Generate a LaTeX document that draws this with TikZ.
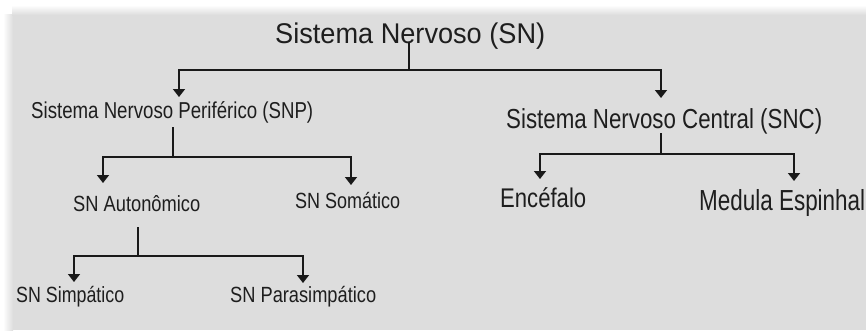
\documentclass[tikz,border=0pt]{standalone}
\usepackage{fontspec}
\usepackage{graphicx}
\setmainfont{Liberation Sans}
\usetikzlibrary{arrows.meta}

\definecolor{bggray}{RGB}{221,221,221}
\definecolor{txtgray}{RGB}{30,30,30}
\definecolor{lngray}{RGB}{25,25,25}

% text squeezed to the width seen in the picture
\newcommand{\lbl}[3]{\resizebox{#1pt}{\height}{\fontsize{#2}{#2}\selectfont #3}}

\tikzset{
  lbl/.style={inner sep=0pt, anchor=base west, text=txtgray},
  ln/.style={line width=1.6pt, draw=lngray},
  arr/.style={ln, -{Triangle[width=12pt,length=8pt]}}
}

\begin{document}
\begin{tikzpicture}[x=1pt,y=-1pt]
        \useasboundingbox (0,0) rectangle (866,333);

        % Background
        \fill[bggray] (12,14) rectangle (866,330);
        \shade[left color=white, right color=bggray] (3,14) rectangle (13,330);
        \shade[top color=white, bottom color=bggray] (12,5) rectangle (866,15);

        % Labels
        \node[lbl] (sn) at (275,43) {\lbl{270}{28.5}{Sistema Nervoso (SN)}};
        \node[lbl] (snp) at (31,118) {\lbl{282}{23}{Sistema Nervoso Periférico (SNP)}};
        \node[lbl] (snc) at (506,128) {\lbl{316}{27.5}{Sistema Nervoso Central (SNC)}};
        \node[lbl] (aut) at (73,211) {\lbl{127}{22}{SN Autonômico}};
        \node[lbl] (som) at (295,208) {\lbl{105}{22}{SN Somático}};
        \node[lbl] (enc) at (500,207) {\lbl{86}{27}{Encéfalo}};
        \node[lbl] (med) at (699,210) {\lbl{166}{29}{Medula Espinhal}};
        \node[lbl] (simp) at (16,302) {\lbl{108}{22}{SN Simpático}};
        \node[lbl] (paras) at (230,302) {\lbl{146}{22}{SN Parasimpático}};

        % Junctions
        \coordinate (jsn) at (409,70);
        \coordinate (jsnp) at (173,157);
        \coordinate (jsnc) at (661,154);
        \coordinate (jaut) at (138,256);

        % Arrow ends
        \coordinate (t-snp) at (179,97);
        \coordinate (t-snc) at (661,98);
        \coordinate (t-aut) at (103,183);
        \coordinate (t-som) at (351,185);
        \coordinate (t-enc) at (540,179);
        \coordinate (t-med) at (794,181);
        \coordinate (t-simp) at (74,282);
        \coordinate (t-paras) at (303,283);

        % Connectors
        \draw[ln] (sn.base -| jsn) -- (jsn);
        \draw[arr] (jsn) -| (t-snp);
        \draw[arr] (jsn) -| (t-snc);

        \draw[ln] ([yshift=-9pt]snp.base -| jsnp) -- (jsnp);
        \draw[arr] (jsnp) -| (t-aut);
        \draw[arr] (jsnp) -| (t-som);

        \draw[ln] ([yshift=-5pt]snc.base -| jsnc) -- (jsnc);
        \draw[arr] (jsnc) -| (t-enc);
        \draw[arr] (jsnc) -| (t-med);

        \draw[ln] ([yshift=-16pt]aut.base -| jaut) -- (jaut);
        \draw[arr] (jaut) -| (t-simp);
        \draw[arr] (jaut) -| (t-paras);
    \end{tikzpicture}
\end{document}
